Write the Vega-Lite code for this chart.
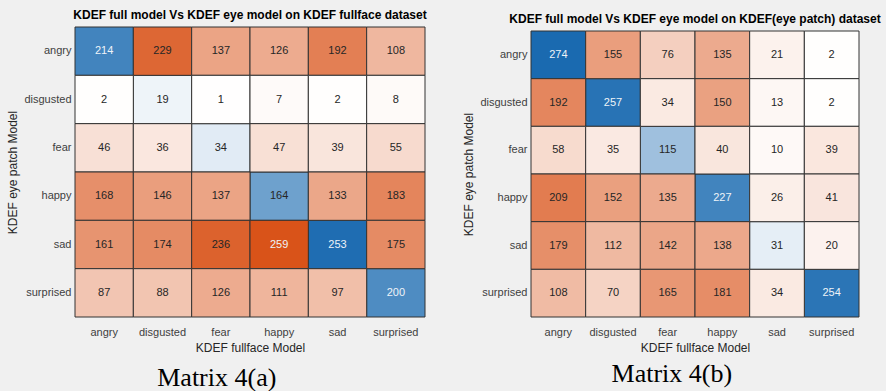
{
  "$schema": "https://vega.github.io/schema/vega-lite/v6.json",
  "background": "#f0f0f0",
  "padding": {"left": 6, "top": 8, "right": 5, "bottom": 5},
  "config": {
    "font": "Liberation Sans",
    "view": {"stroke": null},
    "axis": {"domain": false, "ticks": false, "labelFontSize": 11, "labelColor": "#404040", "titleFontSize": 12, "titleFontWeight": "normal", "titleColor": "#262626", "labelFont": "Liberation Sans", "titleFont": "Liberation Sans"},
    "axisX": {"labelAngle": 0, "labelPadding": 9, "titlePadding": 5},
    "axisY": {"labelPadding": 4, "titlePadding": 4},
    "title": {"font": "Liberation Sans", "fontSize": 12, "fontWeight": "bold", "color": "#000000", "anchor": "middle", "offset": 5}
  },
  "datasets": {
    "a": [
      {"actual": "angry", "pred": "angry", "value": 214},
      {"actual": "angry", "pred": "disgusted", "value": 229},
      {"actual": "angry", "pred": "fear", "value": 137},
      {"actual": "angry", "pred": "happy", "value": 126},
      {"actual": "angry", "pred": "sad", "value": 192},
      {"actual": "angry", "pred": "surprised", "value": 108},
      {"actual": "disgusted", "pred": "angry", "value": 2},
      {"actual": "disgusted", "pred": "disgusted", "value": 19},
      {"actual": "disgusted", "pred": "fear", "value": 1},
      {"actual": "disgusted", "pred": "happy", "value": 7},
      {"actual": "disgusted", "pred": "sad", "value": 2},
      {"actual": "disgusted", "pred": "surprised", "value": 8},
      {"actual": "fear", "pred": "angry", "value": 46},
      {"actual": "fear", "pred": "disgusted", "value": 36},
      {"actual": "fear", "pred": "fear", "value": 34},
      {"actual": "fear", "pred": "happy", "value": 47},
      {"actual": "fear", "pred": "sad", "value": 39},
      {"actual": "fear", "pred": "surprised", "value": 55},
      {"actual": "happy", "pred": "angry", "value": 168},
      {"actual": "happy", "pred": "disgusted", "value": 146},
      {"actual": "happy", "pred": "fear", "value": 137},
      {"actual": "happy", "pred": "happy", "value": 164},
      {"actual": "happy", "pred": "sad", "value": 133},
      {"actual": "happy", "pred": "surprised", "value": 183},
      {"actual": "sad", "pred": "angry", "value": 161},
      {"actual": "sad", "pred": "disgusted", "value": 174},
      {"actual": "sad", "pred": "fear", "value": 236},
      {"actual": "sad", "pred": "happy", "value": 259},
      {"actual": "sad", "pred": "sad", "value": 253},
      {"actual": "sad", "pred": "surprised", "value": 175},
      {"actual": "surprised", "pred": "angry", "value": 87},
      {"actual": "surprised", "pred": "disgusted", "value": 88},
      {"actual": "surprised", "pred": "fear", "value": 126},
      {"actual": "surprised", "pred": "happy", "value": 111},
      {"actual": "surprised", "pred": "sad", "value": 97},
      {"actual": "surprised", "pred": "surprised", "value": 200}
    ],
    "b": [
      {"actual": "angry", "pred": "angry", "value": 274},
      {"actual": "angry", "pred": "disgusted", "value": 155},
      {"actual": "angry", "pred": "fear", "value": 76},
      {"actual": "angry", "pred": "happy", "value": 135},
      {"actual": "angry", "pred": "sad", "value": 21},
      {"actual": "angry", "pred": "surprised", "value": 2},
      {"actual": "disgusted", "pred": "angry", "value": 192},
      {"actual": "disgusted", "pred": "disgusted", "value": 257},
      {"actual": "disgusted", "pred": "fear", "value": 34},
      {"actual": "disgusted", "pred": "happy", "value": 150},
      {"actual": "disgusted", "pred": "sad", "value": 13},
      {"actual": "disgusted", "pred": "surprised", "value": 2},
      {"actual": "fear", "pred": "angry", "value": 58},
      {"actual": "fear", "pred": "disgusted", "value": 35},
      {"actual": "fear", "pred": "fear", "value": 115},
      {"actual": "fear", "pred": "happy", "value": 40},
      {"actual": "fear", "pred": "sad", "value": 10},
      {"actual": "fear", "pred": "surprised", "value": 39},
      {"actual": "happy", "pred": "angry", "value": 209},
      {"actual": "happy", "pred": "disgusted", "value": 152},
      {"actual": "happy", "pred": "fear", "value": 135},
      {"actual": "happy", "pred": "happy", "value": 227},
      {"actual": "happy", "pred": "sad", "value": 26},
      {"actual": "happy", "pred": "surprised", "value": 41},
      {"actual": "sad", "pred": "angry", "value": 179},
      {"actual": "sad", "pred": "disgusted", "value": 112},
      {"actual": "sad", "pred": "fear", "value": 142},
      {"actual": "sad", "pred": "happy", "value": 138},
      {"actual": "sad", "pred": "sad", "value": 31},
      {"actual": "sad", "pred": "surprised", "value": 20},
      {"actual": "surprised", "pred": "angry", "value": 108},
      {"actual": "surprised", "pred": "disgusted", "value": 70},
      {"actual": "surprised", "pred": "fear", "value": 165},
      {"actual": "surprised", "pred": "happy", "value": 181},
      {"actual": "surprised", "pred": "sad", "value": 34},
      {"actual": "surprised", "pred": "surprised", "value": 254}
    ]
  },
  "spacing": 35,
  "center": true,
  "hconcat": [
    {
      "title": {"text": "Matrix 4(a)", "orient": "bottom", "font": "Liberation Serif", "fontSize": 26, "fontWeight": "normal", "color": "#000000", "offset": 12},
      "vconcat": [
        {
          "width": 350,
          "height": 290,
          "data": {"name": "a"},
          "title": {"text": "KDEF full model Vs KDEF eye model on KDEF fullface dataset"},
          "encoding": {
            "x": {"field": "pred", "type": "nominal", "sort": ["angry", "disgusted", "fear", "happy", "sad", "surprised"], "title": "KDEF fullface Model"},
            "y": {"field": "actual", "type": "nominal", "sort": ["angry", "disgusted", "fear", "happy", "sad", "surprised"], "title": "KDEF eye patch Model"}
          },
          "layer": [
            {
              "transform": [{"filter": "datum.actual === datum.pred"}],
              "mark": {"type": "rect", "stroke": "#333333", "strokeWidth": 1},
              "encoding": {"color": {"field": "value", "type": "quantitative", "scale": {"domain": [0, 259], "range": ["#ffffff", "#1a6ab0"], "interpolate": "rgb"}, "legend": null}}
            },
            {
              "transform": [{"filter": "datum.actual !== datum.pred"}],
              "mark": {"type": "rect", "stroke": "#333333", "strokeWidth": 1},
              "encoding": {"color": {"field": "value", "type": "quantitative", "scale": {"domain": [0, 259], "range": ["#ffffff", "#d95319"], "interpolate": "rgb"}, "legend": null}}
            },
            {
              "mark": {"type": "text", "fontSize": 11, "font": "Liberation Sans"},
              "encoding": {
                "text": {"field": "value", "type": "quantitative"},
                "color": {"condition": {"test": "(datum.actual === datum.pred && datum.value > 180) || datum.value > 255", "value": "#eef3f8"}, "value": "#262626"}
              }
            }
          ],
          "resolve": {"scale": {"color": "independent"}}
        }
      ]
    },
    {
      "title": {"text": "Matrix 4(b)", "orient": "bottom", "font": "Liberation Serif", "fontSize": 26, "fontWeight": "normal", "color": "#000000", "offset": 8},
      "vconcat": [
        {
          "width": 328,
          "height": 286,
          "data": {"name": "b"},
          "title": {"text": "KDEF full model Vs KDEF eye model on KDEF(eye patch) dataset"},
          "encoding": {
            "x": {"field": "pred", "type": "nominal", "sort": ["angry", "disgusted", "fear", "happy", "sad", "surprised"], "title": "KDEF fullface Model"},
            "y": {"field": "actual", "type": "nominal", "sort": ["angry", "disgusted", "fear", "happy", "sad", "surprised"], "title": "KDEF eye patch Model"}
          },
          "layer": [
            {
              "transform": [{"filter": "datum.actual === datum.pred"}],
              "mark": {"type": "rect", "stroke": "#333333", "strokeWidth": 1},
              "encoding": {"color": {"field": "value", "type": "quantitative", "scale": {"domain": [0, 274], "range": ["#ffffff", "#1a6ab0"], "interpolate": "rgb"}, "legend": null}}
            },
            {
              "transform": [{"filter": "datum.actual !== datum.pred"}],
              "mark": {"type": "rect", "stroke": "#333333", "strokeWidth": 1},
              "encoding": {"color": {"field": "value", "type": "quantitative", "scale": {"domain": [0, 274], "range": ["#ffffff", "#d95319"], "interpolate": "rgb"}, "legend": null}}
            },
            {
              "mark": {"type": "text", "fontSize": 11, "font": "Liberation Sans"},
              "encoding": {
                "text": {"field": "value", "type": "quantitative"},
                "color": {"condition": {"test": "(datum.actual === datum.pred && datum.value > 180) || datum.value > 255", "value": "#eef3f8"}, "value": "#262626"}
              }
            }
          ],
          "resolve": {"scale": {"color": "independent"}}
        }
      ]
    }
  ]
}
